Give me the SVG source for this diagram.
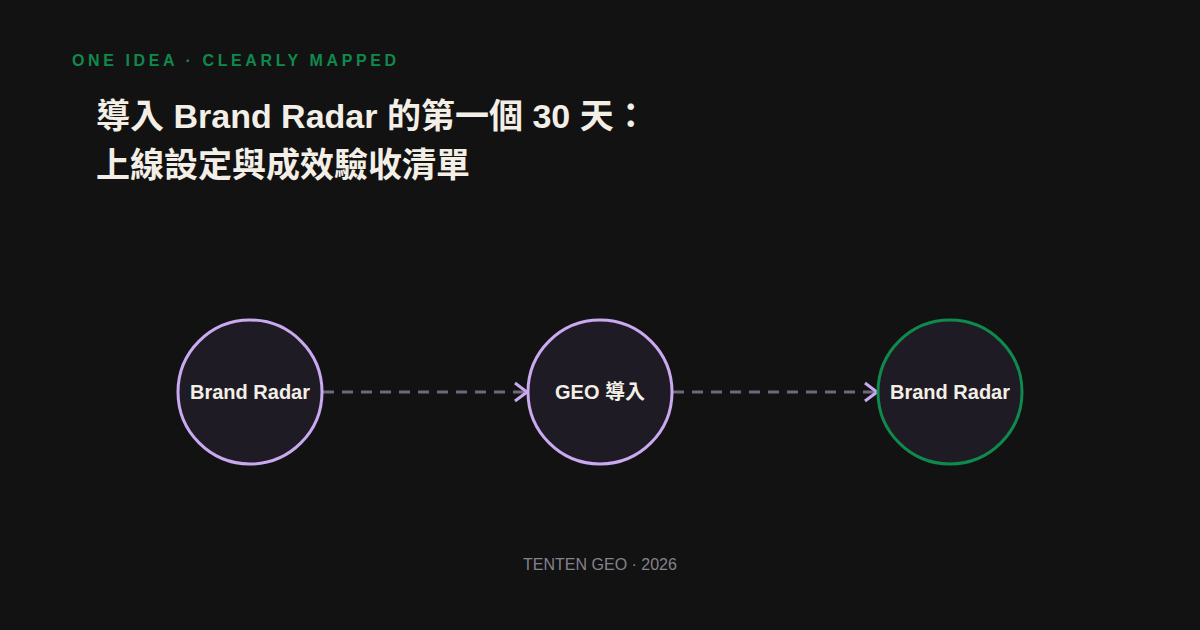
<svg xmlns="http://www.w3.org/2000/svg" width="1200" height="630" viewBox="0 0 1200 630">
<style>
.tag{font-family:"Liberation Sans",Arial,sans-serif;font-size:16px;font-weight:700;letter-spacing:3.6px;fill:#0f8a4c}
.title{font-family:"Liberation Sans","Noto Sans CJK TC",sans-serif;font-size:34px;font-weight:700;fill:#f3efe6}
.node{fill:#1e1b24;stroke-width:3}
.lbl{font-family:"Liberation Sans","Noto Sans CJK TC",sans-serif;font-size:20px;font-weight:700;fill:#f3efe6;text-anchor:middle}
.edge{stroke:#6f6878;stroke-width:3;stroke-dasharray:11 8;fill:none}
.foot{font-family:"Liberation Sans",Arial,sans-serif;font-size:16px;fill:#86818c;text-anchor:middle}
</style>
<defs>
<marker id="arr" markerWidth="16" markerHeight="22" refX="14" refY="11" orient="auto" markerUnits="userSpaceOnUse">
<path d="M2,2 L14,11 L2,20" fill="none" stroke="#c9a9f0" stroke-width="3"/>
</marker>
</defs>
<rect width="1200" height="630" fill="#121212"/>
<text class="tag" x="72" y="66">ONE IDEA · CLEARLY MAPPED</text>
<text class="title" x="96" y="128">導入 Brand Radar 的第一個 30 天：</text>
<text class="title" x="96" y="177">上線設定與成效驗收清單</text>
<g id="connectors">
<line class="edge" x1="323" y1="392" x2="527" y2="392" marker-end="url(#arr)"/>
<line class="edge" x1="673" y1="392" x2="877" y2="392" marker-end="url(#arr)"/>
</g>
<g id="node1">
<circle class="node" cx="250" cy="392" r="72" stroke="#c9a9f0"/>
<text class="lbl" x="250" y="399">Brand Radar</text>
</g>
<g id="node2">
<circle class="node" cx="600" cy="392" r="72" stroke="#c9a9f0"/>
<text class="lbl" x="600" y="399">GEO 導入</text>
</g>
<g id="node3">
<circle class="node" cx="950" cy="392" r="72" stroke="#0f8a4c"/>
<text class="lbl" x="950" y="399">Brand Radar</text>
</g>
<text class="foot" x="600" y="570">TENTEN GEO · 2026</text>
</svg>
